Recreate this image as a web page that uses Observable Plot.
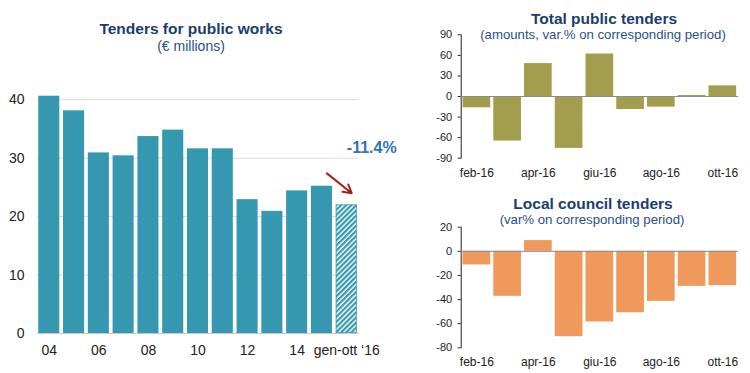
<!DOCTYPE html>
<html><head><meta charset="utf-8">
<script src="https://cdn.jsdelivr.net/npm/d3@7"></script>
<script src="https://cdn.jsdelivr.net/npm/@observablehq/plot@0.6"></script>
<style>
body{margin:0;background:#fff;}
#wrap{position:relative;width:750px;height:373px;overflow:hidden;font-family:"Liberation Sans",Arial,sans-serif;}
.t{position:absolute;white-space:nowrap;transform:translateX(-50%);line-height:1;}
.title{font-weight:bold;font-size:15.5px;color:#1b3d6e;}
.sub{font-size:14px;color:#2b4f8c;}
.sub2{font-size:13.2px;color:#2b4f8c;}
#wrap svg{position:absolute;}
</style></head>
<body><div id="wrap">
<div class="t title" style="left:191px;top:21px">Tenders for public works</div>
<div class="t sub" style="left:191px;top:39px">(€ millions)</div>
<div class="t title" style="left:604px;top:11px">Total public tenders</div>
<div class="t sub2" style="left:603px;top:28px">(amounts, var.% on corresponding period)</div>
<div class="t title" style="left:593px;top:196px">Local council tenders</div>
<div class="t sub2" style="left:592px;top:213px">(var% on corresponding period)</div>
</div>
<script>
// ---- data ----
const years = ["04","05","06","07","08","09","10","11","12","13","14","15","gen-ott ‘16"];
const tenders = [40.6,38.1,30.9,30.4,33.7,34.8,31.6,31.6,22.9,20.9,24.4,25.2,22.0];
const yearTicks = ["04","06","08","10","12","14","gen-ott ‘16"];
const leftYTicks = [0,10,20,30,40];
const changeLabel = "-11.4%";

const months = ["feb-16","mar-16","apr-16","mag-16","giu-16","lug-16","ago-16","set-16","ott-16"];
const monthTicks = ["feb-16","apr-16","giu-16","ago-16","ott-16"];
const totalVar = [-16.5,-65,48,-75.7,62,-19,-15.5,1.5,15.5];
const localVar = [-11.3,-37.3,8.9,-70.8,-58.6,-50.9,-41.5,-29,-28.5];
const totalTicks = [-90,-60,-30,0,30,60,90];
const localTicks = [-80,-60,-40,-20,0,20];

const wrap = document.getElementById("wrap");
const font = "Liberation Sans, Arial, sans-serif";

// ---- left chart ----
const leftData = years.map((y,i)=>({year:y, value:tenders[i]}));
const solid = leftData.slice(0,-1);
const last = leftData.slice(-1);
const teal = "#3598b0";
const left = Plot.plot({
  width: 400, height: 373,
  marginTop: 70, marginBottom: 40, marginLeft: 37, marginRight: 42,
  style: {fontFamily: font, fontSize: "14px", color: "#222", background: "transparent"},
  x: {domain: years, paddingInner: 0.15, paddingOuter: 0.05, round: false, label: null},
  y: {domain: [0,45], label: null},
  marks: [
    Plot.gridY([10,20,30,40], {stroke: "#d9d9d9", strokeOpacity: 1}),
    Plot.ruleY([0], {stroke: "#c8c8c8"}),
    Plot.barY(solid, {x: "year", y: "value", fill: teal}),
    Plot.barY(last, {x: "year", y: "value", fill: "url(#hatch)", stroke: teal, strokeWidth: 0.8, inset: 0.4}),
    Plot.axisX(yearTicks, {tickSize: 0, tickPadding: 12, fontSize: 14, label: null}),
    Plot.axisY(leftYTicks, {tickSize: 0, tickPadding: 13, fontSize: 14, label: null}),
    Plot.text([changeLabel], {x: () => years[years.length-1], y: () => 30.8, text: d => d, dx: 25, lineAnchor: "bottom", fontWeight: "bold", fontSize: 16, fill: "#2e74b5"}),
    Plot.arrow([0], {x1: () => years[years.length-2], y1: () => 27.4, x2: () => years[years.length-1], y2: () => 24.0, dx: 5, stroke: "#a8201a", strokeWidth: 2, headLength: 7})
  ]
});
d3.select(left).insert("defs", ":first-child").html(
  `<pattern id="hatch" patternUnits="userSpaceOnUse" width="3.6" height="3.6" patternTransform="rotate(45)">
     <rect width="3.6" height="3.6" fill="#fff"/>
     <rect x="0" y="0" width="2.2" height="3.6" fill="${teal}"/>
   </pattern>`);
left.style.left = "0px"; left.style.top = "0px";
wrap.appendChild(left);

// ---- small charts ----
function small(vals, color, domain, yticks, opts) {
  const data = months.map((m,i)=>({month:m, v:vals[i]}));
  return Plot.plot({
    width: 350, height: opts.height,
    marginTop: opts.top, marginBottom: opts.bottom, marginLeft: 60.7, marginRight: 12,
    style: {fontFamily: font, fontSize: "11px", color: "#222", background: "transparent"},
    x: {domain: months, paddingInner: 0.1, paddingOuter: 0.06, round: false, label: null, axis: null},
    y: {domain, ticks: yticks, tickFormat: d => String(d), label: null, line: true, tickSize: 3, tickPadding: 6},
    marks: [
      Plot.barY(data, {x: "month", y: "v", fill: color}),
      Plot.ruleY([0], {stroke: "#8a8a8a"}),
      Plot.axisX(monthTicks, {tickSize: 0, tickPadding: 10, fontSize: 12, label: null})
    ]
  });
}
const top1 = small(totalVar, "#a39e4e", [-90,90], totalTicks, {height: 185, top: 34.3, bottom: 27.3});
top1.style.left = "400px"; top1.style.top = "0px";
wrap.appendChild(top1);
const bot = small(localVar, "#f0995c", [-80,20], localTicks, {height: 188, top: 41.7, bottom: 25.7});
bot.style.left = "400px"; bot.style.top = "185px";
wrap.appendChild(bot);
</script>
</body></html>
